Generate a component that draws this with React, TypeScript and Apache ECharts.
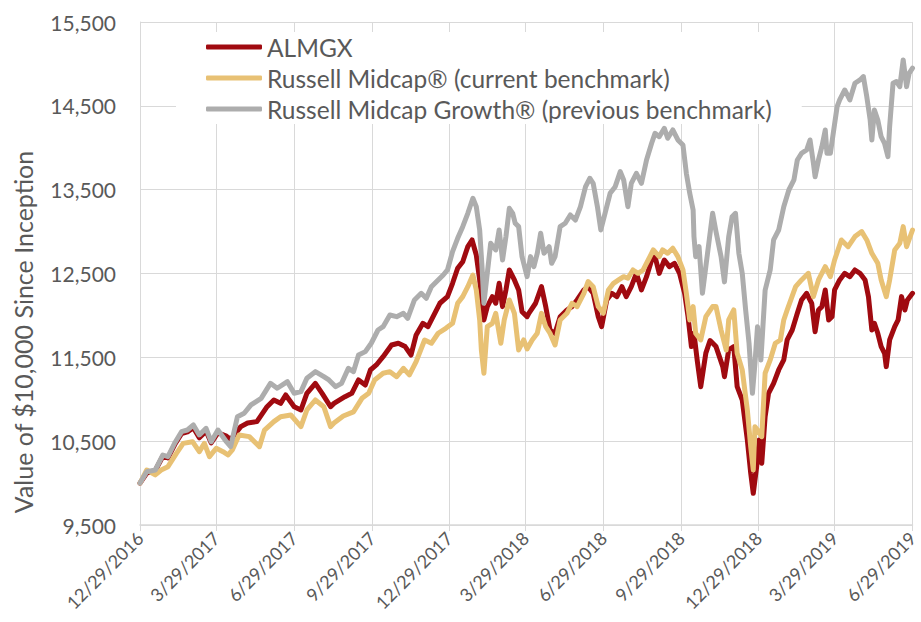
import React, { useEffect, useRef } from "react";
import * as echarts from "echarts";

// Tick labels (quarterly dates) and y ticks
const tickDates = [
  "12/29/2016", "3/29/2017", "6/29/2017", "9/29/2017", "12/29/2017", "3/29/2018",
  "6/29/2018", "9/29/2018", "12/29/2018", "3/29/2019", "6/29/2019",
];
const yTicks = [9500, 10500, 11500, 12500, 13500, 14500, 15500];

const seriesNames = [
  "ALMGX",
  "Russell Midcap\u00ae (current benchmark)",
  "Russell Midcap Growth\u00ae (previous benchmark)",
];
const yAxisTitle = "Value of $10,000 Since Inception";

// [days since 12/29/2016, value of $10,000]
const almgx: [number, number][] = [
  [0, 10000], [8, 10120], [18, 10150], [27, 10320], [33, 10300], [41, 10460], [49, 10590],
  [56, 10610], [63, 10660], [70, 10540], [78, 10620], [84, 10480], [92, 10600], [102, 10560],
  [107, 10520], [119, 10673], [127, 10717], [138, 10733], [150, 10911], [158, 10991], [166, 10951],
  [172, 11051], [182, 10911], [190, 10872], [197, 11071], [207, 11190], [215, 11071], [225, 10911],
  [229, 10951], [242, 11031], [250, 11071], [258, 11230], [266, 11170], [272, 11349], [279, 11409],
  [287, 11508], [297, 11647], [305, 11668], [313, 11628], [320, 11528], [326, 11767], [334, 11906],
  [340, 11866], [346, 11985], [354, 12145], [363, 12224], [369, 12383], [375, 12562], [381, 12641],
  [387, 12820], [392, 12900], [397, 12721], [401, 12423], [404, 12105], [406, 11946], [410, 12105],
  [416, 12224], [420, 12145], [424, 12383], [428, 12105], [432, 12304], [436, 12542], [442, 12423],
  [447, 12304], [451, 12045], [457, 11985], [459, 12025], [467, 12145], [474, 12343], [479, 12105],
  [484, 11826], [490, 11787], [496, 11985], [504, 12065], [510, 12105], [516, 12184], [524, 12304],
  [529, 12343], [535, 12264], [541, 11985], [545, 11866], [551, 12184], [557, 12264], [563, 12224],
  [569, 12343], [574, 12224], [580, 12343], [586, 12502], [592, 12304], [598, 12462], [604, 12661],
  [608, 12701], [613, 12502], [619, 12661], [625, 12582], [631, 12622], [637, 12502], [643, 12264],
  [647, 11985], [651, 11628], [654, 11787], [658, 11450], [662, 11150], [668, 11550], [673, 11700],
  [680, 11628], [688, 11389], [690, 11269], [695, 11588], [701, 11628], [705, 11150], [711, 10991],
  [717, 10514], [721, 10117], [724, 9878], [728, 10196], [731, 10514], [734, 10236], [738, 10792],
  [742, 11071], [748, 11190], [754, 11349], [760, 11469], [764, 11707], [770, 11826], [776, 12025],
  [781, 12184], [787, 12264], [793, 12145], [797, 11806], [801, 12065], [805, 12105], [809, 12304],
  [813, 11946], [817, 11985], [820, 12304], [826, 12423], [832, 12502], [838, 12462], [844, 12542],
  [850, 12502], [856, 12423], [860, 12224], [864, 11826], [867, 11906], [871, 11787], [875, 11628],
  [879, 11548], [881, 11389], [885, 11707], [891, 11866], [895, 11946], [899, 12224], [903, 12065],
  [906, 12184], [912, 12264],
];

const russellMidcap: [number, number][] = [
  [0, 10000], [8, 10156], [18, 10097], [25, 10156], [33, 10196], [43, 10355], [51, 10474],
  [62, 10494], [70, 10375], [76, 10474], [82, 10315], [90, 10415], [98, 10375], [104, 10335],
  [109, 10395], [117, 10574], [129, 10554], [141, 10434], [147, 10633], [158, 10733], [166, 10792],
  [178, 10812], [190, 10673], [197, 10872], [207, 10991], [217, 10911], [225, 10673], [229, 10717],
  [240, 10800], [252, 10850], [262, 11011], [270, 11071], [277, 11230], [287, 11310], [295, 11329],
  [303, 11269], [311, 11369], [318, 11290], [326, 11449], [336, 11707], [344, 11668], [352, 11787],
  [361, 11846], [369, 11906], [375, 12145], [381, 12224], [387, 12343], [393, 12482], [397, 12304],
  [401, 11946], [403, 11588], [406, 11310], [410, 11866], [416, 11906], [420, 12025], [426, 11668],
  [430, 11946], [436, 12184], [442, 12025], [447, 11588], [453, 11707], [457, 11600], [463, 11707],
  [469, 11787], [474, 12025], [479, 11866], [484, 11787], [490, 11647], [496, 11946], [504, 12025],
  [510, 12145], [516, 12105], [524, 12264], [529, 12403], [535, 12343], [541, 12105], [547, 12025],
  [553, 12304], [559, 12383], [565, 12423], [571, 12462], [576, 12443], [582, 12542], [588, 12502],
  [594, 12542], [600, 12661], [606, 12781], [613, 12701], [617, 12781], [623, 12741], [629, 12801],
  [635, 12701], [641, 12542], [645, 12264], [649, 11946], [653, 12105], [656, 11787], [662, 11707],
  [668, 11985], [676, 12105], [680, 12105], [686, 11826], [692, 11588], [695, 11946], [701, 12065],
  [705, 11548], [711, 11349], [717, 10872], [721, 10434], [724, 10156], [726, 10673], [729, 10633],
  [734, 10554], [738, 11310], [744, 11469], [750, 11668], [756, 11707], [760, 11946], [764, 12065],
  [774, 12343], [781, 12423], [789, 12502], [795, 12224], [801, 12423], [809, 12582], [815, 12462],
  [820, 12661], [828, 12900], [836, 12820], [844, 12940], [852, 13000], [858, 12900], [864, 12741],
  [871, 12622], [875, 12423], [881, 12224], [885, 12423], [889, 12661], [891, 12781], [897, 12860],
  [901, 13059], [905, 12820], [912, 13019],
];

const russellMidcapGrowth: [number, number][] = [
  [0, 10000], [8, 10136], [18, 10156], [27, 10335], [33, 10315], [41, 10478], [49, 10613],
  [56, 10633], [63, 10693], [70, 10574], [78, 10653], [84, 10494], [92, 10633], [102, 10494],
  [107, 10434], [115, 10792], [123, 10833], [131, 10932], [143, 11011], [154, 11190], [162, 11131],
  [174, 11210], [182, 11071], [190, 11091], [197, 11250], [207, 11329], [217, 11269], [223, 11230],
  [231, 11150], [238, 11190], [246, 11369], [252, 11329], [258, 11528], [266, 11568], [273, 11668],
  [281, 11826], [287, 11866], [295, 12005], [303, 11985], [311, 12025], [316, 11966], [324, 12184],
  [332, 12264], [338, 12204], [344, 12343], [352, 12423], [358, 12482], [363, 12542], [369, 12761],
  [375, 12920], [381, 13059], [387, 13218], [393, 13397], [397, 13297], [401, 13019], [404, 12542],
  [406, 12145], [410, 12502], [414, 12860], [420, 12781], [424, 13019], [428, 12661], [432, 12940],
  [436, 13278], [440, 13218], [443, 13099], [447, 13059], [451, 12700], [457, 12462], [461, 12701],
  [465, 12582], [469, 12741], [473, 12980], [477, 12741], [483, 12820], [486, 12622], [490, 12701],
  [496, 13059], [502, 13099], [508, 13198], [514, 13138], [520, 13297], [526, 13536], [531, 13636],
  [535, 13576], [540, 13297], [544, 13019], [549, 13218], [555, 13456], [561, 13536], [567, 13715],
  [571, 13616], [576, 13297], [580, 13576], [586, 13695], [592, 13576], [598, 13854], [604, 14053],
  [608, 14172], [613, 14132], [619, 14232], [623, 14113], [629, 14212], [635, 14093], [641, 14033],
  [645, 13695], [649, 13456], [653, 13258], [654, 12940], [656, 12701], [660, 12820], [664, 12264],
  [668, 12582], [672, 12900], [676, 13218], [680, 13000], [686, 12701], [690, 12400], [695, 12940],
  [699, 13178], [703, 13218], [707, 12741], [711, 12502], [715, 12065], [719, 11668], [723, 11071],
  [726, 11429], [729, 11866], [733, 11469], [738, 12300], [744, 12542], [748, 12900], [754, 13019],
  [760, 13297], [766, 13496], [772, 13616], [776, 13854], [781, 13934], [787, 13974], [791, 14093],
  [795, 13815], [797, 13655], [801, 13854], [805, 14013], [809, 14212], [811, 13934], [815, 13934],
  [819, 14212], [823, 14490], [826, 14570], [832, 14689], [838, 14570], [844, 14769], [850, 14809],
  [854, 14849], [858, 14610], [862, 14331], [864, 14093], [867, 14451], [871, 14331], [875, 14132],
  [879, 14053], [883, 13894], [885, 14252], [889, 14769], [893, 14789], [897, 14729], [901, 15048],
  [905, 14729], [908, 14888], [912, 14950],
];

const colors = ["#A00A10", "#E8C174", "#ADADAD"];
const FONT = "Lato, 'Open Sans', sans-serif";
const TEXT = "#595959";
const GRID = "#D9D9D9";
const DAY = 86400000;

function parseDate(s: string): number {
  const [m, d, y] = s.split("/").map(Number);
  return Date.UTC(y, m - 1, d);
}

export default function App() {
  const ref = useRef<HTMLDivElement>(null);

  useEffect(() => {
    if (!ref.current) return;
    const chart = echarts.init(ref.current, null, { renderer: "svg" });
    const t0 = parseDate(tickDates[0]);
    // x axis in days since inception
    const tickDays = tickDates.map((s) => Math.round((parseDate(s) - t0) / DAY));
    const labelFor = (v: number) => {
      const i = tickDays.indexOf(Math.round(v));
      return i >= 0 ? tickDates[i] : "";
    };
    const allData = [almgx, russellMidcap, russellMidcapGrowth];

    chart.setOption({
      animation: false,
      backgroundColor: "#fff",
      grid: { left: 140, right: 4, top: 22, bottom: 97, containLabel: false },
      legend: {
        orient: "vertical",
        left: 176,
        top: 32,
        backgroundColor: "#fff",
        padding: [2, 30, 2, 30],
        itemGap: 5,
        itemWidth: 56,
        itemHeight: 5,
        icon: "roundRect",
        textStyle: { fontFamily: FONT, fontSize: 24.5, color: TEXT, lineHeight: 26 },
        data: seriesNames,
      },
      xAxis: {
        type: "value",
        min: tickDays[0],
        max: tickDays[tickDays.length - 1],
        axisLine: { show: true, lineStyle: { color: GRID, width: 1.5 } },
        axisTick: { show: true, length: 6, customValues: tickDays, lineStyle: { color: GRID } },
        splitLine: { show: true, lineStyle: { color: GRID, width: 1 } },
        axisLabel: {
          customValues: tickDays,
          formatter: (v: number) => labelFor(v),
          rotate: 45,
          margin: 10,
          fontFamily: FONT,
          fontSize: 18,
          color: TEXT,
          hideOverlap: false,
          showMinLabel: true,
          showMaxLabel: true,
        },
      },
      yAxis: {
        type: "value",
        min: yTicks[0],
        max: yTicks[yTicks.length - 1],
        axisLine: { show: true, lineStyle: { color: GRID, width: 1 } },
        axisTick: { show: false, customValues: yTicks },
        splitLine: { show: true, lineStyle: { color: GRID, width: 1 } },
        axisLabel: {
          customValues: yTicks,
          formatter: (v: number) => v.toLocaleString("en-US"),
          margin: 24,
          fontFamily: FONT,
          fontSize: 21,
          color: TEXT,
        },
      },
      graphic: [
        {
          type: "text",
          x: 23,
          y: 332,
          rotation: Math.PI / 2,
          style: {
            text: yAxisTitle,
            fontFamily: FONT,
            fontSize: 25,
            fill: TEXT,
            align: "center",
            verticalAlign: "middle",
          },
        },
      ],
      series: seriesNames.map((name, i) => ({
        name,
        type: "line",
        data: allData[i],
        showSymbol: false,
        symbol: "none",
        color: colors[i],
        lineStyle: { width: 5, color: colors[i], cap: "round", join: "round" },
        z: 2 + i,
      })),
    });
    return () => chart.dispose();
  }, []);

  return (
    <div
      ref={ref}
      style={{ position: "fixed", left: 0, top: 0, width: 921, height: 622 }}
    />
  );
}
